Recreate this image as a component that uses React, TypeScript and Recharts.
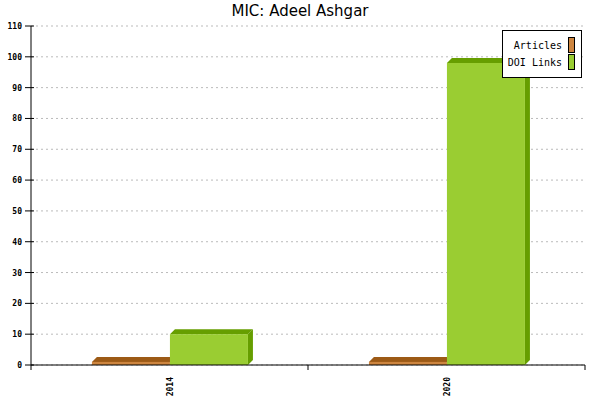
import React from "react";
import {
  BarChart,
  Bar,
  XAxis,
  YAxis,
  CartesianGrid,
  Legend,
} from "recharts";

const years = ["2014", "2020"];
const articles = [1, 1];
const doiLinks = [10, 98];
const yTicks = [0, 10, 20, 30, 40, 50, 60, 70, 80, 90, 100, 110];

const data = years.map((year, i) => ({
  year,
  articles: articles[i],
  doi: doiLinks[i],
}));

const DEPTH = 5;
const MONO = "'DejaVu Sans Mono', monospace";

// fake 3d bar: front, top and side faces
const make3d = (front: string, dark: string) => (props: any) => {
  const { x, y, width, height } = props;
  if (width == null || height == null) return <g />;
  const d = DEPTH;
  return (
    <g>
      <polygon
        points={`${x + width},${y} ${x + width + d},${y - d} ${x + width + d},${y + height - d} ${x + width},${y + height}`}
        fill={dark}
      />
      <polygon
        points={`${x},${y} ${x + d},${y - d} ${x + width + d},${y - d} ${x + width},${y}`}
        fill={dark}
      />
      <rect x={x} y={y} width={width} height={height} fill={front} />
    </g>
  );
};

const YTick = (props: any) => {
  const { x, y, payload } = props;
  return (
    <g>
      <line x1={x - 6} x2={x + 3} y1={y} y2={y} stroke="#000" />
      <text
        x={x - 9}
        y={y + 3}
        textAnchor="end"
        fontFamily={MONO}
        fontSize={8}
        fontWeight="bold"
        fill="#000"
      >
        {payload.value}
      </text>
    </g>
  );
};

const XTick = (props: any) => {
  const { x, y, payload, index, width } = props;
  const half = (width || 554) / years.length / 2;
  return (
    <g>
      {index === 0 && (
        <line x1={x - half} x2={x - half} y1={y} y2={y + 5} stroke="#000" />
      )}
      <line x1={x + half} x2={x + half} y1={y} y2={y + 5} stroke="#000" />
      <text
        transform={`translate(${x + 3},${y + 12}) rotate(-90)`}
        textAnchor="end"
        fontFamily={MONO}
        fontSize={8}
        fontWeight="bold"
        fill="#000"
      >
        {payload.value}
      </text>
    </g>
  );
};

const LegendBox = (props: any) => {
  const items = props.payload || [];
  return (
    <svg width={80} height={48} style={{ display: "block" }}>
      <rect x={0.5} y={0.5} width={79} height={47} fill="#fff" stroke="#000" />
      {items.map((it: any, i: number) => (
        <g key={it.value}>
          <text
            x={60}
            y={19 + i * 17}
            textAnchor="end"
            fontFamily={MONO}
            fontSize={10}
            fill="#000"
          >
            {it.value}
          </text>
          <rect
            x={66.5}
            y={7.5 + i * 17}
            width={6}
            height={15}
            fill={it.color}
            stroke="#000"
          />
        </g>
      ))}
    </svg>
  );
};

export default function App() {
  return (
    <div
      style={{
        position: "absolute",
        left: 0,
        top: 0,
        width: 600,
        height: 400,
        background: "#fff",
      }}
    >
      <div
        style={{
          position: "absolute",
          left: 0,
          top: 2,
          width: 600,
          textAlign: "center",
          fontFamily: "'DejaVu Sans', sans-serif",
          fontSize: 15,
          color: "#000",
        }}
      >
        MIC: Adeel Ashgar
      </div>
      <BarChart
        width={600}
        height={400}
        data={data}
        margin={{ top: 26, right: 15, bottom: 0, left: 0 }}
        barCategoryGap="22%"
        barGap={0}
      >
        <CartesianGrid
          yAxisId="left"
          vertical={false}
          stroke="#bbb"
          strokeDasharray="2 3"
        />
        <XAxis
          dataKey="year"
          height={35}
          tickSize={0}
          tickMargin={0}
          tickLine={false}
          axisLine={{ stroke: "#000" }}
          tick={<XTick />}
          interval={0}
        />
        <YAxis
          yAxisId="left"
          width={31}
          domain={[0, 110]}
          ticks={yTicks}
          interval={0}
          tickSize={0}
          tickMargin={0}
          tickLine={false}
          axisLine={{ stroke: "#000" }}
          tick={<YTick />}
        />
        <YAxis
          yAxisId="right"
          orientation="right"
          width={0}
          domain={[0, 110]}
          tick={false}
          tickLine={false}
          axisLine={{ stroke: "#000" }}
        />
        <Legend
          layout="vertical"
          align="center"
          verticalAlign="middle"
          content={<LegendBox />}
          wrapperStyle={{ left: 502, top: 30, width: 80, height: 48 }}
        />
        <Bar
          yAxisId="left"
          dataKey="articles"
          name="Articles"
          fill="#cd853f"
          shape={make3d("#cd853f", "#9c5a16")}
          isAnimationActive={false}
        />
        <Bar
          yAxisId="left"
          dataKey="doi"
          name="DOI Links"
          fill="#9acd32"
          shape={make3d("#9acd32", "#669e00")}
          isAnimationActive={false}
        />
      </BarChart>
    </div>
  );
}
